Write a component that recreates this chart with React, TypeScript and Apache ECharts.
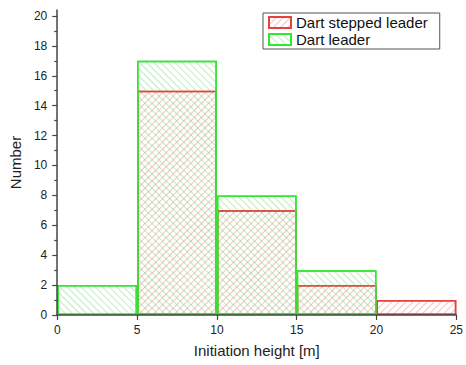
import React, { useEffect, useRef } from 'react';
import * as echarts from 'echarts';

const binStarts = [0, 5, 10, 15, 20];
const binWidth = 5;
const steppedCounts = [0, 15, 7, 2, 1];
const dartCounts = [2, 17, 8, 3, 0];
const yTicks = [0, 2, 4, 6, 8, 10, 12, 14, 16, 18, 20];
const yMinorTicks = [1, 3, 5, 7, 9, 11, 13, 15, 17, 19];
const seriesNames = ['Dart stepped leader', 'Dart leader'];

const RED = '#e8403a';
const GREEN = '#33e633';
const AXIS = '#444';
const FONT = '"Liberation Sans", Arial, sans-serif';

export default function App() {
  const ref = useRef<HTMLDivElement>(null);
  useEffect(() => {
    const chart = echarts.init(ref.current!, null, { renderer: 'svg' });
    const toData = (counts: number[]) =>
      binStarts.map((s, i) => [s + binWidth / 2, counts[i] === 0 ? '-' : counts[i]]);
    chart.setOption({
      animation: false,
      backgroundColor: '#fff',
      textStyle: { fontFamily: FONT },
      grid: { left: 55, right: 7, top: 10, bottom: 50 },
      legend: {
        orient: 'vertical',
        left: 263,
        top: 13,
        padding: [2, 12, 2, 5],
        itemGap: 2,
        itemWidth: 22,
        itemHeight: 11,
        borderColor: '#555',
        borderWidth: 1,
        backgroundColor: '#fff',
        icon: 'rect',
        textStyle: { fontSize: 15, color: '#111', fontFamily: FONT },
        data: seriesNames,
      },
      xAxis: {
        type: 'value',
        min: 0,
        max: 25,
        interval: 5,
        z: 5,
        name: 'Initiation height [m]',
        nameLocation: 'middle',
        nameGap: 28,
        nameTextStyle: { fontSize: 15, color: '#222', fontFamily: FONT },
        axisLine: { show: true, lineStyle: { color: AXIS, width: 1.5 } },
        axisTick: { show: true, length: 5, lineStyle: { color: AXIS, width: 1.2 } },
        axisLabel: { margin: 9, fontSize: 12, color: '#222', fontFamily: FONT },
        splitLine: { show: false },
      },
      yAxis: [
        {
          type: 'value',
          min: 0,
          max: 20.4,
          position: 'left',
          z: 5,
          name: 'Number',
          nameLocation: 'middle',
          nameGap: 31,
          nameTextStyle: { fontSize: 15, color: '#222', fontFamily: FONT },
          axisLine: { show: true, lineStyle: { color: AXIS, width: 1.5 } },
          axisTick: { show: true, length: 5, customValues: yTicks, lineStyle: { color: AXIS, width: 1.2 } },
          axisLabel: { margin: 10, fontSize: 12, color: '#222', customValues: yTicks, fontFamily: FONT },
          splitLine: { show: false },
        },
        {
          type: 'value',
          min: 0,
          max: 20.4,
          position: 'left',
          z: 5,
          axisLine: { show: false },
          axisTick: { show: true, length: 3, customValues: yMinorTicks, lineStyle: { color: AXIS, width: 1.2 } },
          axisLabel: { show: false },
          splitLine: { show: false },
        },
      ],
      series: [
        {
          type: 'bar',
          name: seriesNames[0],
          data: toData(steppedCounts),
          barWidth: '100%',
          barGap: '-100%',
          itemStyle: {
            color: 'rgba(255,255,255,0)',
            borderColor: RED,
            borderWidth: 1.5,
            decal: {
              symbol: 'rect',
              symbolSize: 1,
              dashArrayX: [1, 0],
              dashArrayY: [1, 3.5],
              rotation: -Math.PI / 4,
              color: 'rgba(235,110,110,0.42)',
            },
          },
        },
        {
          type: 'bar',
          name: seriesNames[1],
          data: toData(dartCounts),
          barWidth: '100%',
          barGap: '-100%',
          itemStyle: {
            color: 'rgba(255,255,255,0)',
            borderColor: GREEN,
            borderWidth: 1.5,
            decal: {
              symbol: 'rect',
              symbolSize: 1,
              dashArrayX: [1, 0],
              dashArrayY: [1, 3.5],
              rotation: Math.PI / 4,
              color: 'rgba(90,210,90,0.4)',
            },
          },
        },
      ],
    });
    return () => chart.dispose();
  }, []);
  return <div ref={ref} style={{ position: 'fixed', left: 0, top: 0, width: 466, height: 365 }} />;
}
